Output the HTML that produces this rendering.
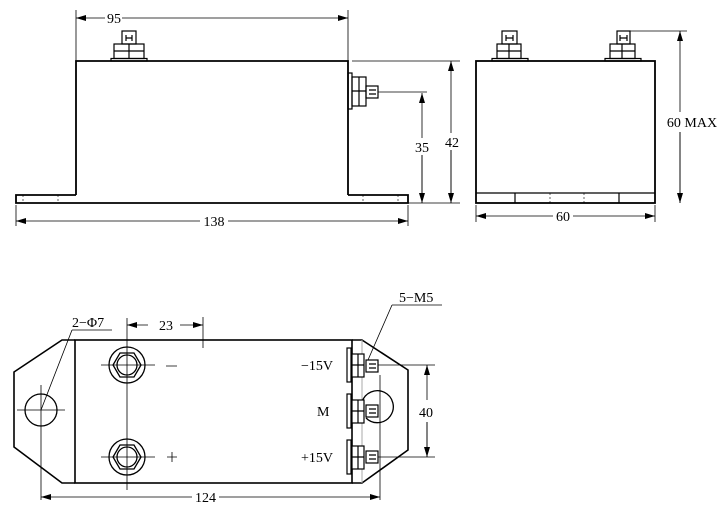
<!DOCTYPE html>
<html><head><style>html,body{margin:0;padding:0;background:#fff}svg{display:block}</style></head><body>
<svg width="727" height="518" viewBox="0 0 727 518" xmlns="http://www.w3.org/2000/svg" style="font-family:'Liberation Serif',serif" font-size="14" fill="none" stroke="#000">
<defs>
<marker id="a" viewBox="0 0 10 6" refX="10" refY="3" markerWidth="10" markerHeight="6" orient="auto-start-reverse" markerUnits="userSpaceOnUse"><path d="M0,0L10,3L0,6z" fill="#000" stroke="none"/></marker>
</defs>
<!-- FRONT VIEW -->
<g stroke-width="1.8">
<path d="M76,195V61H348V195"/>
<path d="M76,195H16V203H408V195H348"/>
</g>
<g stroke-width="0.6" stroke-dasharray="2,2"><path d="M23,195V203M58,195V203M363,195V203M398,195V203"/></g>
<g stroke-width="1.2">
<rect x="111" y="58.5" width="36" height="2.5"/>
<rect x="114" y="44" width="30" height="14.5"/><path d="M114,51H144M129,44V58"/>
<rect x="122" y="31" width="14" height="13"/><path d="M126,35V41M132,35V41M126,38H132"/>
<rect x="348" y="73" width="4" height="36"/>
<rect x="352" y="77" width="14" height="29"/><path d="M359,77V106M352,91H366"/>
<rect x="366" y="86" width="12" height="12"/><path d="M369,90H376M369,94H376"/>
</g>
<g stroke-width="0.8">
<path d="M378,92H427"/>
<path d="M76,10V61M348,10V61"/>
<path d="M76,18H105M122,18H348" marker-start="url(#a)" marker-end="url(#a)"/>
<path d="M422,93V138M422,155V203" marker-start="url(#a)"/><path d="M422,155V203" marker-end="url(#a)"/>
<path d="M352,61H460M408,203H460"/>
<path d="M451,61V133M451,150V203" marker-start="url(#a)"/><path d="M451,150V203" marker-end="url(#a)"/>
<path d="M16,205V226M408,205V226"/>
<path d="M16,221H200M228,221H408" marker-start="url(#a)" marker-end="url(#a)"/>
</g>
<g fill="#000" stroke="none" text-anchor="middle">
<text x="114" y="23">95</text>
<text x="422" y="152">35</text>
<text x="452" y="147">42</text>
<text x="214" y="226">138</text>
</g>
<!-- SIDE VIEW -->
<g stroke-width="1.8"><rect x="476" y="61" width="179" height="142"/></g>
<g stroke-width="1.2"><path d="M476,193H655M515,193V203M619,193V203"/></g>
<g stroke-width="0.6" stroke-dasharray="2,2"><path d="M550,193V203M584,193V203"/></g>
<g stroke-width="1.2">
<rect x="492" y="58.5" width="36" height="2.5"/>
<rect x="497" y="44" width="24" height="14.5"/><path d="M497,51H521M509,44V58"/>
<rect x="502" y="31" width="15" height="13"/><path d="M506,35V41M513,35V41M506,38H513"/>
<rect x="605" y="58.5" width="36" height="2.5"/>
<rect x="610" y="44" width="25" height="14.5"/><path d="M610,51H635M622,44V58"/>
<rect x="617" y="31" width="13" height="13"/><path d="M620,35V41M627,35V41M620,38H627"/>
</g>
<g stroke-width="0.8">
<path d="M630,31H687"/>
<path d="M680,31V112M680,132V203" marker-start="url(#a)"/><path d="M680,132V203" marker-end="url(#a)"/>
<path d="M476,205V222M655,205V222"/>
<path d="M476,216H553M573,216H655" marker-start="url(#a)" marker-end="url(#a)"/>
</g>
<g fill="#000" stroke="none" text-anchor="middle">
<text x="692" y="127">60 MAX</text>
<text x="563" y="221">60</text>
</g>
<!-- BOTTOM VIEW -->
<g stroke-width="1.6">
<path d="M75,340H62L14,372V447L62,483H75"/>
<rect x="75" y="340" width="277" height="143"/>
<path d="M352,340H362L408,370V450L362,483H352"/>
</g>
<path d="M362,340V483" stroke="#aaa" stroke-width="1"/>
<g stroke-width="1.3">
<circle cx="41" cy="410" r="16"/>
<path d="M362,402A16,16 0 1 1 366,418"/>
<circle cx="127" cy="365" r="18"/><polygon points="141,365 134,377 120,377 113,365 120,353 134,353"/><circle cx="127" cy="365" r="10"/>
<circle cx="127" cy="457" r="18"/><polygon points="141,457 134,469 120,469 113,457 120,445 134,445"/><circle cx="127" cy="457" r="10"/>
</g>
<g stroke-width="1.2">
<rect x="347" y="348" width="4" height="34" fill="#fff"/><rect x="352" y="354" width="12" height="23" fill="#fff"/><path d="M358,354V377M352,365H364"/><rect x="366" y="360" width="12" height="12" fill="#fff"/><path d="M369,364H376M369,368H376"/>
<rect x="347" y="394" width="4" height="34" fill="#fff"/><rect x="352" y="400" width="12" height="23" fill="#fff"/><path d="M358,400V423M352,411H364"/><rect x="366" y="405" width="12" height="12" fill="#fff"/><path d="M369,409H376M369,413H376"/>
<rect x="347" y="440" width="4" height="34" fill="#fff"/><rect x="352" y="446" width="12" height="23" fill="#fff"/><path d="M358,446V469M352,457H364"/><rect x="366" y="451" width="12" height="12" fill="#fff"/><path d="M369,455H376M369,459H376"/>
</g>
<g stroke-width="0.8">
<path d="M127,318V490M101,365H155M101,457H155"/>
<path d="M17,410H65M41,385V500"/>
<path d="M380,375V500"/>
<path d="M203,317V348"/>
<path d="M127,325H148M180,325H203" marker-start="url(#a)" marker-end="url(#a)"/>
<path d="M378,365H435M378,457H435"/>
<path d="M427,365V400M427,422V457" marker-start="url(#a)"/><path d="M427,422V457" marker-end="url(#a)"/>
<path d="M41,497H192M219,497H380" marker-start="url(#a)" marker-end="url(#a)"/>
<path d="M72,330H112M72,330L41,410"/>
<path d="M392,305H442M392,305L368,360"/>
<path d="M166,366H177M167,457H177M172,452V462"/>
</g>
<g fill="#000" stroke="none">
<text x="72" y="327">2−Φ7</text>
<text x="159" y="330">23</text>
<text x="399" y="302">5−M5</text>
<text x="301" y="370">−15V</text>
<text x="317" y="416">M</text>
<text x="301" y="462">+15V</text>
<text x="419" y="417">40</text>
<text x="195" y="502">124</text>
</g>
</svg>
</body></html>
